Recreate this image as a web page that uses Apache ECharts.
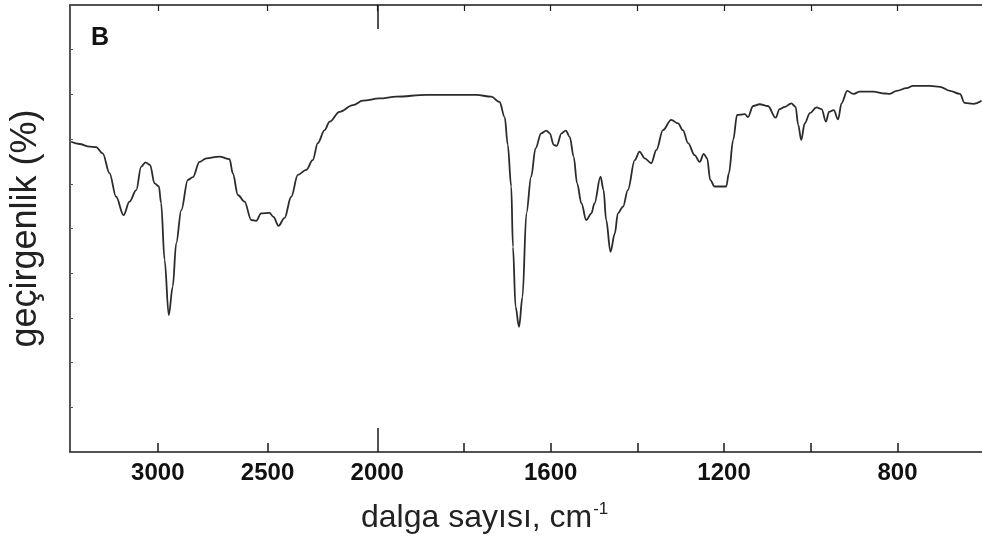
<!DOCTYPE html>
<html>
<head>
<meta charset="utf-8">
<style>html,body{margin:0;padding:0;background:#fff;}#chart{width:982px;height:554px;}</style>
<script src="https://cdn.jsdelivr.net/npm/echarts@6/dist/echarts.min.js"></script>
</head>
<body>
<div id="chart"></div>
<script>
// Wavenumber (cm^-1) and transmittance (%)
const wavenumber = [3395,3357,3311,3281,3251,3220,3190,3156,3129,3098,3076,3056,3035,3015,2995,2985,2969,2950,2932,2916,2893,2863,2840,2810,2779,2719,2673,2658,2635,2605,2574,2552,2529,2491,2473,2450,2423,2392,2362,2324,2294,2271,2240,2217,2172,2111,2066,1995,1956,1887,1826,1772,1737,1718,1706,1699,1691,1687,1681,1673,1665,1656,1645,1635,1622,1610,1602,1593,1586,1575,1565,1556,1547,1539,1529,1518,1506,1499,1485,1478,1472,1462,1452,1445,1433,1422,1406,1395,1383,1368,1356,1341,1322,1306,1295,1283,1268,1256,1247,1239,1232,1222,1195,1189,1179,1170,1152,1145,1133,1118,1099,1081,1072,1060,1045,1035,1029,1022,1014,1002,987,975,965,958,947,937,929,916,902,887,856,829,819,802,779,764,725,702,679,656,645,625,606];
const transmittance = [69.4,68.9,68.3,68.2,66.8,62.4,57.1,53.0,56.0,58.6,63.8,64.8,64.2,60.1,59.4,55.7,43.0,30.6,37.0,46.7,54.1,60.9,61.5,64.9,65.7,66.1,65.5,62.3,57.5,56.0,51.9,51.7,53.4,53.5,52.6,50.6,52.3,57.1,62.0,63.1,65.3,69.1,72.0,73.9,76.1,77.6,78.6,79.1,79.5,79.9,79.9,79.9,79.5,78.3,74.9,68.7,59.4,45.9,32.5,28.0,34.7,53.4,61.6,67.9,71.3,71.9,71.3,68.7,68.5,71.3,71.9,70.5,66.1,60.1,55.6,51.9,53.4,55.6,61.6,58.6,51.9,44.8,48.9,53.4,54.9,58.6,65.3,67.2,65.7,64.6,67.6,72.0,74.3,73.5,72.0,69.1,66.4,64.9,66.7,65.7,60.9,59.4,59.4,62.3,69.8,75.4,75.6,74.9,77.4,77.8,77.4,74.8,76.7,77.2,78.0,77.2,73.2,69.8,73.5,75.8,77.1,76.7,73.9,76.1,76.5,74.4,78.0,80.8,80.1,80.6,80.6,80.2,80.1,80.8,81.4,81.9,81.9,81.7,80.8,80.1,78.1,77.9,78.6];
const tickWavenumbers = [3000, 2500, 2000, 1800, 1600, 1400, 1200, 1000, 800];
const labelWavenumbers = [3000, 2500, 2000, 1600, 1200, 800];
const scaleBreak = [2000];
const rangeWavenumber = [3400, 605];

// IR spectrum x scale: above 2000 cm^-1 the scale is compressed by ~2
const K = 0.5063;
function toAxis(w) { return w >= 2000 ? -(w - 2000) * K : (2000 - w); }
function fromAxis(t) { return t < 0 ? 2000 - t / K : 2000 - t; }

const points = wavenumber.map((w, i) => [toAxis(w), transmittance[i]]);
const xMin = toAxis(rangeWavenumber[0]);
const xMax = toAxis(rangeWavenumber[1]);
const tickVals = tickWavenumbers.map(toAxis);
const labelVals = labelWavenumbers.map(toAxis);
const breakVals = scaleBreak.map(toAxis);

const lineColor = '#1a1a1a';
const FONT = 'Liberation Sans, Arial, sans-serif';
const baseX = {
  type: 'value', min: xMin, max: xMax, splitLine: { show: false }
};

const chart = echarts.init(document.getElementById('chart'), null, { renderer: 'canvas' });
chart.setOption({
  animation: false,
  backgroundColor: '#ffffff',
  title: {
    text: 'dalga sayısı, cm{sup|-1}',
    left: 361, top: 501, padding: 0,
    textStyle: {
      fontFamily: FONT, fontSize: 32, fontWeight: 'normal', color: '#222',
      rich: { sup: { fontSize: 17, verticalAlign: 'top', padding: [0, 0, 18, 1], fontFamily: FONT, color: '#222' } }
    }
  },
  graphic: [{
    type: 'text', left: 91, top: 26,
    style: { text: 'B', font: 'bold 25px "Liberation Sans", Arial, sans-serif', fill: '#111' }
  }],
  grid: { left: 70, right: 0, top: 5, bottom: 102, containLabel: false, outerBoundsMode: 'none' },
  xAxis: [
    Object.assign({}, baseX, {
      position: 'bottom',
      axisLine: { show: true, onZero: false, lineStyle: { color: lineColor, width: 1.5 } },
      axisTick: { show: true, inside: true, length: 9, customValues: tickVals, lineStyle: { color: lineColor, width: 1.5 } },
      axisLabel: {
        show: true, customValues: labelVals, margin: 9,
        formatter: v => String(Math.round(fromAxis(v) / 100) * 100),
        fontFamily: FONT, fontWeight: 'bold', fontSize: 24, color: '#111'
      }
    }),
    Object.assign({}, baseX, {
      position: 'bottom',
      axisLine: { show: false, onZero: false },
      axisTick: { show: true, inside: true, length: 24, customValues: breakVals, lineStyle: { color: lineColor, width: 1.5 } },
      axisLabel: { show: false }
    }),
    Object.assign({}, baseX, {
      position: 'top',
      axisLine: { show: true, onZero: false, lineStyle: { color: lineColor, width: 1.5 } },
      axisTick: { show: true, inside: true, length: 6, customValues: tickVals, lineStyle: { color: lineColor, width: 1.2 } },
      axisLabel: { show: false }
    }),
    Object.assign({}, baseX, {
      position: 'top',
      axisLine: { show: false, onZero: false },
      axisTick: { show: true, inside: true, length: 24, customValues: breakVals, lineStyle: { color: lineColor, width: 1.5 } },
      axisLabel: { show: false }
    })
  ],
  yAxis: {
    type: 'value', min: 0, max: 100, interval: 10, position: 'left',
    name: 'geçirgenlik (%)', nameLocation: 'middle', nameGap: 26, nameRotate: 90,
    nameTextStyle: { fontFamily: FONT, fontSize: 36, color: '#222' },
    axisLine: { show: true, onZero: false, lineStyle: { color: lineColor, width: 1.5 } },
    axisTick: { show: true, inside: true, length: 3, lineStyle: { color: '#555', width: 1 } },
    axisLabel: { show: false },
    splitLine: { show: false }
  },
  series: [{
    type: 'line', xAxisIndex: 0, data: points, showSymbol: false,
    smooth: 0.35, smoothMonotone: 'x',
    lineStyle: { color: '#2b2b2b', width: 1.8 }
  }]
});
</script>
</body>
</html>
